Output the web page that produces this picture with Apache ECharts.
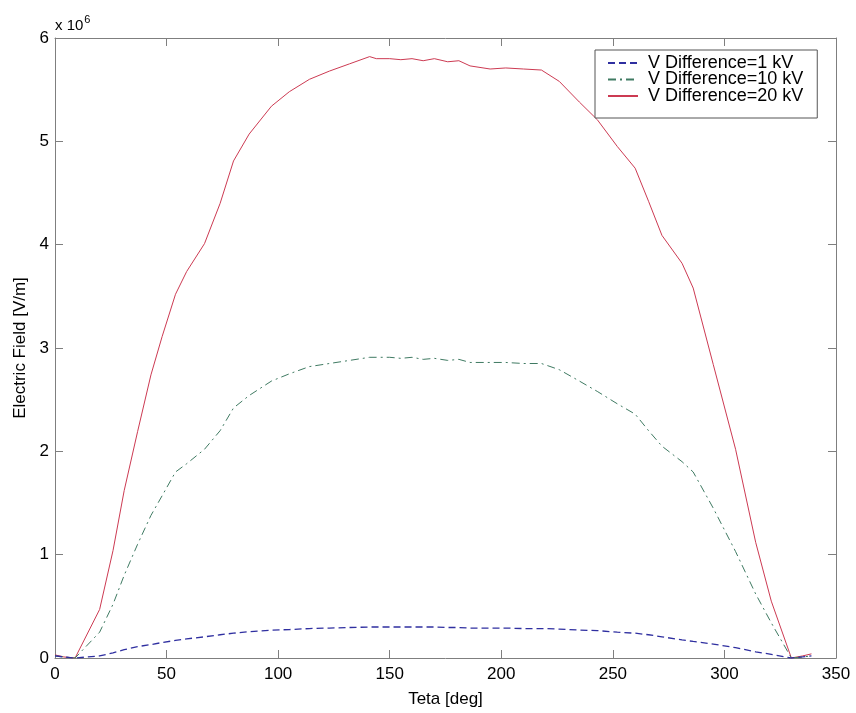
<!DOCTYPE html>
<html>
<head>
<meta charset="utf-8">
<script src="https://cdn.jsdelivr.net/npm/echarts@6/dist/echarts.min.js"></script>
<style>
html,body{margin:0;padding:0;background:#fff;}
#chart{width:856px;height:713px;}
</style>
</head>
<body>
<div id="chart"></div>
<script>
// Teta [deg]
var theta = [0, 4, 9, 20, 26, 31, 37, 43, 48, 54, 59, 67, 74, 80, 87, 97, 105, 114, 123, 132, 141, 144, 150, 155, 160, 165, 170, 176, 181, 186, 195, 202, 210, 218, 226, 235, 243, 252, 260, 266, 272, 281, 286, 295, 305, 314, 321, 330, 335, 339];
// Electric field, x 10^6 V/m
var field1kV = [0.02, 0.01, 0.0, 0.02, 0.05, 0.08, 0.11, 0.13, 0.15, 0.17, 0.185, 0.205, 0.225, 0.24, 0.255, 0.27, 0.275, 0.285, 0.29, 0.295, 0.30, 0.30, 0.30, 0.30, 0.30, 0.30, 0.30, 0.295, 0.295, 0.29, 0.29, 0.29, 0.285, 0.285, 0.28, 0.27, 0.265, 0.25, 0.24, 0.225, 0.205, 0.175, 0.16, 0.135, 0.10, 0.06, 0.035, 0.0, 0.01, 0.02];
var field10kV = [0.02, 0.01, 0.0, 0.25, 0.52, 0.80, 1.10, 1.38, 1.57, 1.80, 1.88, 2.02, 2.20, 2.42, 2.54, 2.68, 2.75, 2.82, 2.85, 2.88, 2.91, 2.91, 2.91, 2.90, 2.91, 2.89, 2.90, 2.88, 2.89, 2.86, 2.86, 2.86, 2.85, 2.85, 2.79, 2.68, 2.58, 2.46, 2.36, 2.20, 2.05, 1.90, 1.80, 1.45, 1.03, 0.62, 0.34, 0.0, 0.01, 0.02];
var field20kV = [0.03, 0.01, 0.0, 0.47, 1.04, 1.62, 2.19, 2.74, 3.11, 3.52, 3.74, 4.01, 4.40, 4.81, 5.07, 5.34, 5.48, 5.60, 5.68, 5.75, 5.82, 5.80, 5.80, 5.79, 5.80, 5.78, 5.80, 5.77, 5.78, 5.73, 5.70, 5.71, 5.70, 5.69, 5.58, 5.38, 5.21, 4.95, 4.74, 4.42, 4.09, 3.82, 3.58, 2.84, 2.02, 1.12, 0.55, 0.0, 0.02, 0.04];
var seriesNames = ['V Difference=1 kV', 'V Difference=10 kV', 'V Difference=20 kV'];
var xTicks = [0, 50, 100, 150, 200, 250, 300, 350];
var yTicks = [0, 1, 2, 3, 4, 5, 6];

function pairs(ys) { return theta.map(function (t, i) { return [t, ys[i]]; }); }

var FONT = 'Liberation Sans, Arial, sans-serif';
var boxColor = '#7f7f7f';

function xAxisCfg(pos, show) {
  return {
    type: 'value', position: pos, min: xTicks[0], max: xTicks[xTicks.length - 1], interval: 50,
    axisLine: { show: true, onZero: false, lineStyle: { color: boxColor, width: 1 } },
    axisTick: { show: true, inside: true, length: 8, lineStyle: { color: boxColor } },
    axisLabel: { show: show, color: '#000', fontSize: 17, fontFamily: FONT, margin: 8 },
    splitLine: { show: false },
    name: show ? 'Teta [deg]' : '', nameLocation: 'middle', nameGap: 33,
    nameTextStyle: { color: '#000', fontSize: 17, fontFamily: FONT }
  };
}
function yAxisCfg(pos, show) {
  return {
    type: 'value', position: pos, min: yTicks[0], max: yTicks[yTicks.length - 1], interval: 1,
    axisLine: { show: true, onZero: false, lineStyle: { color: boxColor, width: 1 } },
    axisTick: { show: true, inside: true, length: 8, lineStyle: { color: boxColor } },
    axisLabel: { show: show, color: '#000', fontSize: 17, fontFamily: FONT, margin: 6 },
    splitLine: { show: false },
    name: show ? 'Electric Field [V/m]' : '', nameLocation: 'middle', nameGap: 21, nameRotate: 90,
    nameTextStyle: { color: '#000', fontSize: 17, fontFamily: FONT }
  };
}

var chart = echarts.init(document.getElementById('chart'), null, { renderer: 'canvas' });
chart.setOption({
  backgroundColor: '#fff',
  animation: false,
  grid: { left: 55, right: 20, top: 38, bottom: 54 },
  xAxis: [xAxisCfg('bottom', true), xAxisCfg('top', false)],
  yAxis: [yAxisCfg('left', true), yAxisCfg('right', false)],
  legend: {
    left: 595, top: 50, orient: 'vertical',
    padding: [4, 14, 13, 12], itemGap: -1.5,
    itemWidth: 30, itemHeight: 14,
    itemStyle: { opacity: 0 },
    backgroundColor: '#fff', borderColor: '#555', borderWidth: 1, borderRadius: 0,
    textStyle: { color: '#000', fontSize: 18, fontFamily: FONT, lineHeight: 16.5, padding: [0, 0, 0, 5] },
    data: seriesNames
  },
  graphic: [{
    type: 'text', left: 55, top: 14,
    style: {
      text: '{a|x 10}{b|6}',
      rich: {
        a: { fontSize: 15, fontFamily: FONT, fill: '#000', verticalAlign: 'bottom' },
        b: { fontSize: 11, fontFamily: FONT, fill: '#000', verticalAlign: 'top', padding: [0, 0, 8, 1] }
      }
    }
  }],
  series: [
    { name: seriesNames[0], type: 'line', data: pairs(field1kV), symbol: 'none', smooth: false,
      lineStyle: { color: '#2f2fa0', width: 1.3, type: [7, 4] }, itemStyle: { color: '#2f2fa0' }, z: 4 },
    { name: seriesNames[1], type: 'line', data: pairs(field10kV), symbol: 'none', smooth: false,
      lineStyle: { color: '#3f7a62', width: 1, type: [8, 4, 2, 4] }, itemStyle: { color: '#3f7a62' }, z: 3 },
    { name: seriesNames[2], type: 'line', data: pairs(field20kV), symbol: 'none', smooth: false,
      lineStyle: { color: '#cc3a52', width: 1 }, itemStyle: { color: '#cc3a52' }, z: 2 }
  ]
});
</script>
</body>
</html>
